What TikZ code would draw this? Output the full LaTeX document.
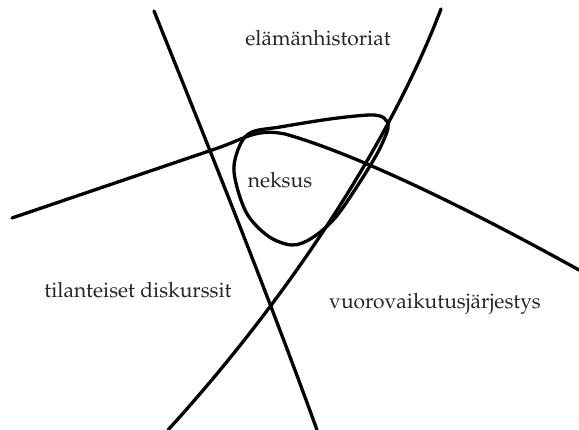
\documentclass[tikz,border=0pt]{standalone}
\usepackage[T1]{fontenc}
\usepackage{mathpazo}
\usepackage{tikz}

\begin{document}
\begin{tikzpicture}[
  x=1pt, y=-1pt,
  strand/.style={draw=black, line width=3.3pt, line cap=round},
  word/.style={font=\fontsize{21}{25}\selectfont, text=black!85, inner sep=0pt, anchor=base}
]
\useasboundingbox (0,0) rectangle (579,430);
% three strands
\draw[strand] (154,11) .. controls (210,150) and (270,300) .. (317,430);
\draw[strand] (441,9) .. controls (395,130) and (300,285) .. (168,430);
\draw[strand] (12,218) -- (215,149) .. controls (245,139) and (255,128) .. (285,134)
  .. controls (360,155) and (480,215) .. (579,270);
% neksus loop
\draw[strand] plot[smooth cycle, tension=0.55] coordinates {
  (234,172) (240,145) (252,132) (280,127) (330,119) (370,115) (384,118)
  (388,128) (378,152) (358,185) (335,218) (312,238) (292,245) (268,236) (246,212)};
% texts
\node[word] (elama) at (318,46) {el\"am\"anhistoriat};
\node[word] (neksus) at (280,188) {neksus};
\node[word] (tilanne) at (138,298) {tilanteiset diskurssit};
\node[word] (vuoro) at (435,309) {vuorovaikutusj\"arjestys};
\end{tikzpicture}
\end{document}
